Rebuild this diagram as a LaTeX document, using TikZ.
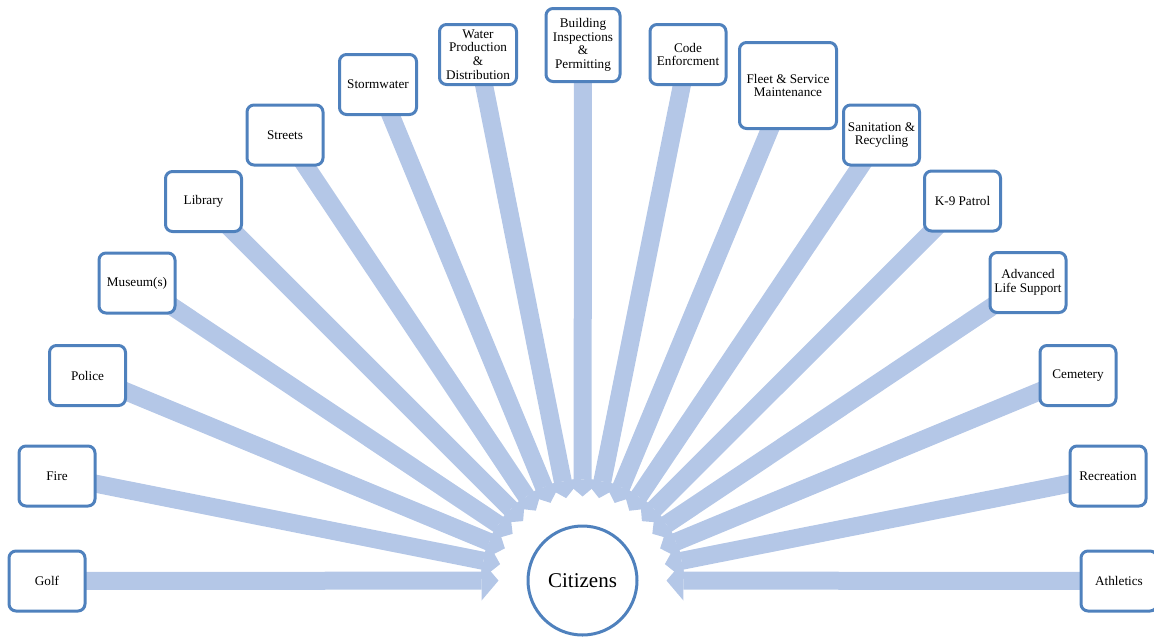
\documentclass[tikz,border=0pt]{standalone}
\usepackage{fontspec}
\setmainfont{Liberation Serif}
\usetikzlibrary{arrows.meta,calc,backgrounds}
\definecolor{boxblue}{RGB}{79,129,189}
\definecolor{arrblue}{RGB}{180,199,231}
\begin{document}
\begin{tikzpicture}[x=1pt,y=-1pt,
  box/.style={draw=boxblue,line width=3pt,rounded corners=7pt,fill=white,
    minimum width=76pt,minimum height=60pt,align=center,inner sep=1pt,
    font=\fontsize{13.2}{13.6}\selectfont},
  arr/.style={draw=arrblue,line width=18pt,
    -{Triangle[width=40pt,length=17pt,line width=0pt]}},
]
\useasboundingbox (0,0) rectangle (1154,638);

\node[draw=boxblue,line width=3pt,fill=white,circle,minimum size=109pt,inner sep=0pt,
  font=\fontsize{21}{24}\selectfont] (cit) at (582.5,580.5) {Citizens};

\node[box] (golf) at (47,581) {Golf};
\node[box] (fire) at (57,476) {Fire};
\node[box] (police) at (87.5,375.5) {Police};
\node[box] (museum) at (137,283) {Museum(s)};
\node[box] (library) at (203.5,201.5) {Library};
\node[box] (streets) at (285,135) {Streets};
\node[box,minimum width=77pt] (storm) at (378,84.5) {Stormwater};
\node[box,minimum width=77pt] (water) at (478,54.5) {Water\\Production\\\&\\Distribution};
\node[box,minimum width=74pt,minimum height=73pt] (building) at (583,45) {Building\\Inspections\\\&\\Permitting};
\node[box] (code) at (688,54.5) {Code\\Enforcment};
\node[box,minimum width=97pt,minimum height=86pt] (fleet) at (788,85.5) {Fleet \& Service\\Maintenance};
\node[box] (sanit) at (881.5,135) {Sanitation \&\\Recycling};
\node[box] (k9) at (962.5,201) {K-9 Patrol};
\node[box] (als) at (1028,282.5) {Advanced\\Life Support};
\node[box] (cemetery) at (1078,375.5) {Cemetery};
\node[box] (recreation) at (1108,476) {Recreation};
\node[box] (athletics) at (1119,581) {Athletics};

\begin{pgfonlayer}{background}
\foreach \b in {golf,fire,police,museum,library,streets,storm,water,building,code,fleet,sanit,k9,als,cemetery,recreation,athletics}
  \draw[arr] (\b.center) -- ($(cit.center)!84pt!(\b.center)$);
\end{pgfonlayer}
\end{tikzpicture}
\end{document}
